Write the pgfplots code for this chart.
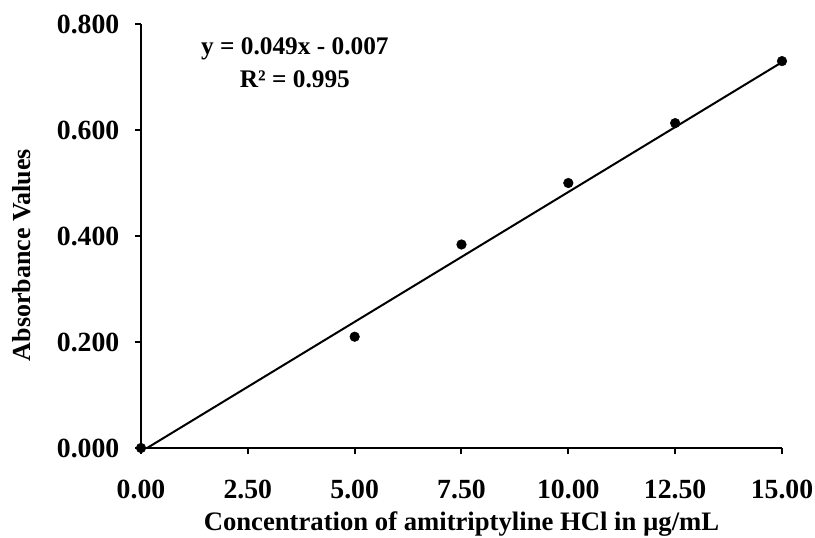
\documentclass[border=0pt]{standalone}
\usepackage{fontspec}
\setmainfont{Liberation Serif}
\usepackage{pgfplots}
\pgfplotsset{compat=1.18}
\begin{document}
\begin{tikzpicture}[x=1pt,y=1pt]
\path[use as bounding box] (-105.75,-66.75) rectangle (505.5,336);
\begin{axis}[
  at={(0,0)}, anchor=south west,
  scale only axis, width=480.75pt, height=318pt,
  xmin=0, xmax=15, ymin=0, ymax=0.8,
  axis x line*=bottom, axis y line*=left,
  xtick={0,2.5,5,7.5,10,12.5,15},
  ytick={0,0.2,0.4,0.6,0.8},
  tick align=outside, major tick length=4.5pt,
  axis line style={line width=1.6pt},
  tick style={line width=1.5pt, black},
  tick label style={font=\fontsize{20.8}{24}\selectfont\bfseries},
  xticklabel style={yshift=-16pt, /pgf/number format/.cd, fixed, fixed zerofill, precision=2, assume math mode=true},
  yticklabel style={xshift=-8.25pt, /pgf/number format/.cd, fixed, fixed zerofill, precision=3, assume math mode=true},
  scaled ticks=false,
  xlabel={Concentration of amitriptyline HCl in µg/mL},
  ylabel={Absorbance Values},
  xlabel style={font=\fontsize{20}{24}\selectfont\bfseries, at={(axis description cs:0.5,0)}, anchor=base, yshift=-61.5pt},
  ylabel style={font=\fontsize{19.5}{24}\selectfont\bfseries, at={(axis description cs:-0.1856,0.455)}, anchor=center},
  clip=false,
]
\addplot[black, line width=1.5pt] coordinates {(0.143,0) (15,0.728)};
\addplot[only marks, mark=*, mark size=3.6pt, black] coordinates {
(0,0) (5,0.210) (7.5,0.384) (10,0.500) (12.5,0.613) (15,0.730)};
\node[font=\fontsize{19}{24.75}\selectfont\bfseries, align=center] at (axis cs:3.6,0.726) {y = 0.049x - 0.007\\R² = 0.995};
\end{axis}
\end{tikzpicture}
\end{document}
